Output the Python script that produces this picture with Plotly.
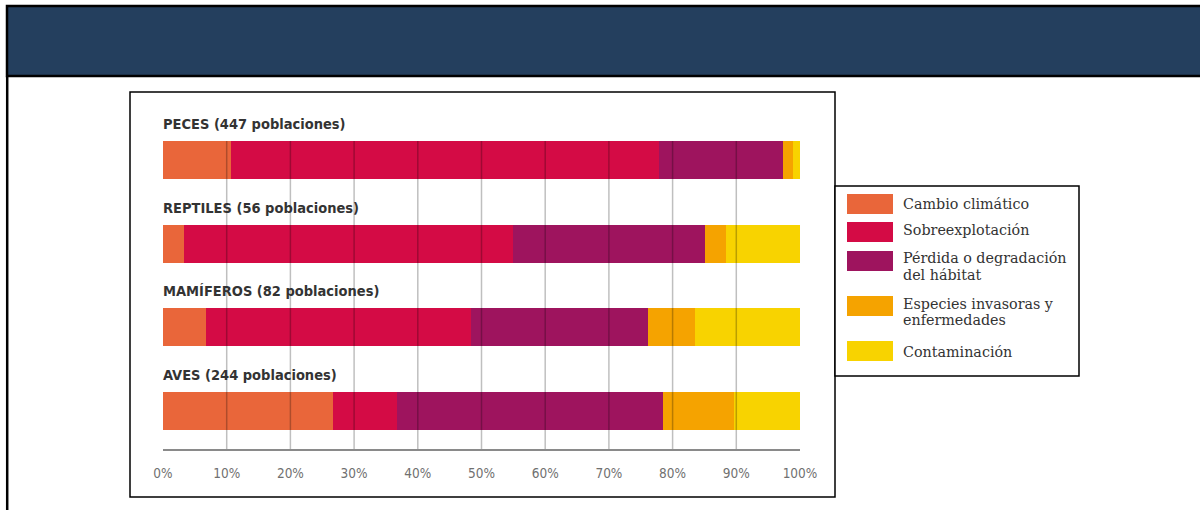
import plotly.graph_objects as go

# ---------------- data ----------------
categories = ["PECES (447 poblaciones)", "REPTILES (56 poblaciones)",
              "MAMÍFEROS (82 poblaciones)", "AVES (244 poblaciones)"]
series_names = ["Cambio climático", "Sobreexplotación",
                "Pérdida o degradación<br>del hábitat",
                "Especies invasoras y<br>enfermedades", "Contaminación"]
cambio_climatico = [10.7, 3.3, 6.8, 26.7]
sobreexplotacion = [67.2, 51.6, 41.5, 10.0]
perdida_habitat = [19.5, 30.2, 27.8, 41.8]
especies_invasoras = [1.5, 3.3, 7.4, 11.2]
contaminacion = [1.1, 11.6, 16.5, 10.3]
tick_values = [0, 10, 20, 30, 40, 50, 60, 70, 80, 90, 100]
tick_labels = ["0%", "10%", "20%", "30%", "40%", "50%", "60%", "70%", "80%", "90%", "100%"]

series_values = [cambio_climatico, sobreexplotacion, perdida_habitat,
                 especies_invasoras, contaminacion]
colors = ["#E9663A", "#D40B45", "#9E145E", "#F5A300", "#F8D300"]

W, H = 1200, 510
L, R, T, B = 163, 800, 141, 449   # plot area in pixels


def px(xp):
    return (xp - L) / (R - L)


def py(yp):
    return (B - yp) / (B - T)


fig = go.Figure()
for name, vals, col in zip(series_names, series_values, colors):
    fig.add_trace(go.Bar(
        y=categories, x=vals, name=name.replace("<br>", " "), orientation="h",
        marker=dict(color=col, line=dict(width=0)), width=0.455,
        showlegend=False,
    ))

cond = "Liberation Sans Narrow, DejaVu Sans Condensed, Arial Narrow, sans-serif"
title_font = dict(family=cond, size=14.5, color="#333333", weight="bold")
tick_font = dict(family=cond, size=13.5, color="#707070")

shapes = []
annotations = []

# header band
shapes.append(dict(type="rect", xref="paper", yref="paper",
                   x0=px(7), x1=px(1203), y0=py(6), y1=py(76),
                   fillcolor="#243F5E", line=dict(color="black", width=2.5), layer="above"))
# left page border
shapes.append(dict(type="line", xref="paper", yref="paper",
                   x0=px(7.2), x1=px(7.2), y0=py(76), y1=py(512),
                   line=dict(color="black", width=2.5)))
# chart frame
shapes.append(dict(type="rect", xref="paper", yref="paper",
                   x0=px(130), x1=px(835), y0=py(92), y1=py(497),
                   line=dict(color="black", width=1.5), layer="below"))
# legend frame
shapes.append(dict(type="rect", xref="paper", yref="paper",
                   x0=px(835), x1=px(1079), y0=py(186), y1=py(376),
                   line=dict(color="black", width=1.5), fillcolor="white", layer="below"))

# grid lines drawn above bars
for tv in tick_values[1:-1]:
    shapes.append(dict(type="line", xref="x", yref="paper", x0=tv, x1=tv, y0=0, y1=1,
                       line=dict(color="rgba(0,0,0,0.25)", width=1.5), layer="above"))

# category titles above bars
for cat in categories:
    annotations.append(dict(x=0, y=cat, xref="x", yref="y", text=cat, showarrow=False,
                            xanchor="left", yanchor="middle", yshift=36, xshift=-2,
                            font=title_font))

# custom legend
swatch_tops = [194, 222, 251, 296, 341]
swatch_h = 20
line_centers = [[203.5], [230], [258, 274.5], [303.5, 320], [352]]
legend_font = dict(family="DejaVu Serif, Liberation Serif, serif", size=14.3, color="#333333")
for name, col, top, centers in zip(series_names, colors, swatch_tops, line_centers):
    shapes.append(dict(type="rect", xref="paper", yref="paper",
                       x0=px(847), x1=px(893), y0=py(top), y1=py(top + swatch_h),
                       fillcolor=col, line=dict(width=0), layer="above"))
    for line_text, yc in zip(name.split("<br>"), centers):
        annotations.append(dict(x=px(901), y=py(yc), xref="paper", yref="paper",
                                text=line_text, showarrow=False, xanchor="left",
                                yanchor="middle", align="left", font=legend_font))

fig.update_layout(
    width=W, height=H,
    margin=dict(l=L, r=W - R, t=T, b=H - B, pad=0),
    paper_bgcolor="white", plot_bgcolor="white",
    barmode="stack", bargap=0,
    shapes=shapes, annotations=annotations,
    xaxis=dict(range=[0, 100], tickvals=tick_values, ticktext=tick_labels,
               showgrid=False, zeroline=False, showline=True, linecolor="#8a8a8a",
               linewidth=1.5, ticks="", tickfont=tick_font, ticklabelstandoff=11,
               fixedrange=True),
    yaxis=dict(type="category", categoryorder="array", categoryarray=categories,
               range=[3.461, -0.2275], showticklabels=False, showgrid=False,
               zeroline=False, showline=False, fixedrange=True),
    showlegend=False,
)

fig.write_html("out.html")
